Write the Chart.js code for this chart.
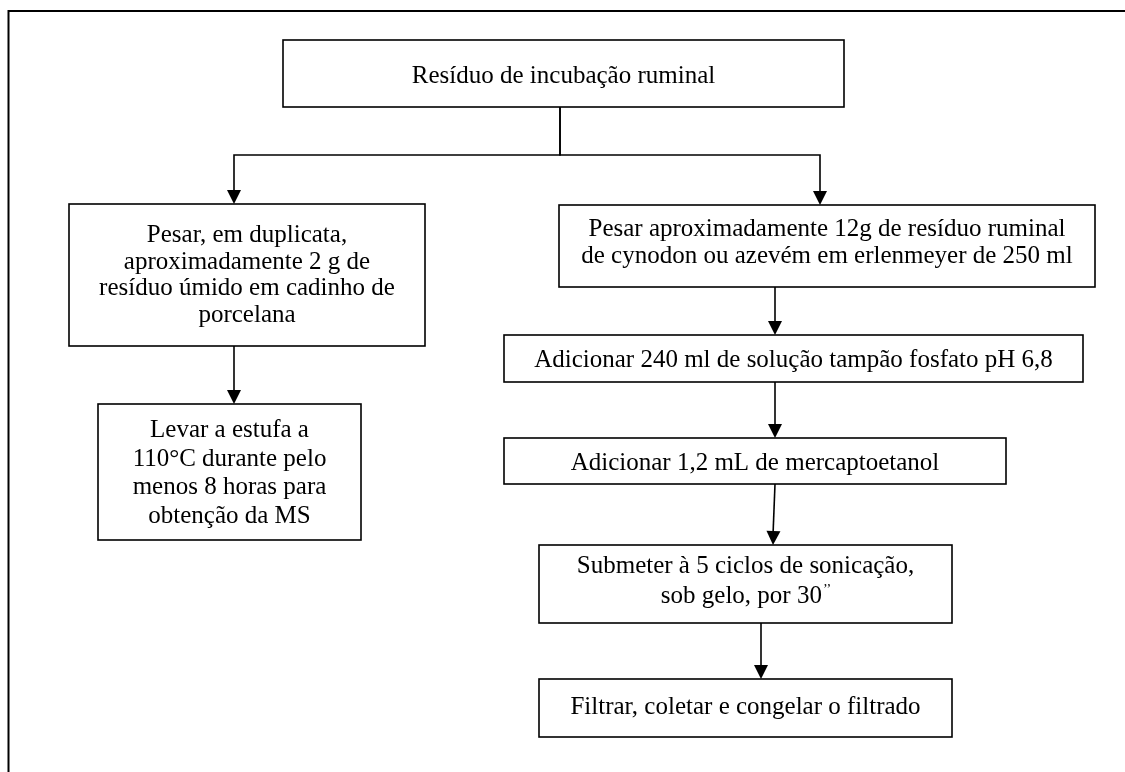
<!DOCTYPE html>
<html>
<head>
<meta charset="utf-8">
<script src="https://cdn.jsdelivr.net/npm/chart.js@4.4.0/dist/chart.umd.min.js"></script>
<style>
  html, body { margin: 0; padding: 0; background: #fff; }
  canvas { display: block; }
</style>
</head>
<body>
<canvas id="flow" width="1125" height="772"></canvas>
<script>
// Flowchart content: step texts (one entry per line, "^" starts a superscript)
const steps = [
    ['Resíduo de incubação ruminal'],
    ['Pesar, em duplicata,', 'aproximadamente 2 g de', 'resíduo úmido em cadinho de', 'porcelana'],
    ['Pesar aproximadamente 12g de resíduo ruminal', 'de cynodon ou azevém em erlenmeyer de 250 ml'],
    ['Levar a estufa a', '110°C durante pelo', 'menos 8 horas para', 'obtenção da MS'],
    ['Adicionar 240 ml de solução tampão fosfato pH 6,8'],
    ['Adicionar 1,2 mL de mercaptoetanol'],
    ['Submeter à 5 ciclos de sonicação,', 'sob gelo, por 30^\u2019\u2019'],
    ['Filtrar, coletar e congelar o filtrado']
];
// Which step leads to which
const links = [[0, 1], [0, 2], [1, 3], [2, 4], [4, 5], [5, 6], [6, 7]];

// Layout in page units (x0, y0, x1, y1, first text baseline, line step)
const layout = [
    { box: [283, 40, 844, 107], ty: 83, lh: 0 },
    { box: [69, 204, 425, 346], ty: 242, lh: 26.7 },
    { box: [559, 205, 1095, 287], ty: 236, lh: 27 },
    { box: [98, 404, 361, 540], ty: 437, lh: 28.7 },
    { box: [504, 335, 1083, 382], ty: 367, lh: 0 },
    { box: [504, 438, 1006, 484], ty: 470, lh: 0 },
    { box: [539, 545, 952, 623], ty: 573, lh: 30 },
    { box: [539, 679, 952, 737], ty: 714, lh: 0 }
];
// x of each link at its start and at its end; split links turn at elbowY
const linkX = [[560, 234], [560, 820], [234, 234], [775, 775], [775, 775], [775, 773], [761, 761]];
const elbowY = 155;
const frame = { left: 8.5, top: 11 };

const FONT = '"Liberation Serif", "Times New Roman", serif';

function arrowHead(ctx, x, y, fromX, fromY) {
    const ang = Math.atan2(y - fromY, x - fromX);
    const len = 14, half = 7;
    ctx.beginPath();
    ctx.moveTo(x, y);
    ctx.lineTo(x - len * Math.cos(ang) + half * Math.sin(ang), y - len * Math.sin(ang) - half * Math.cos(ang));
    ctx.lineTo(x - len * Math.cos(ang) - half * Math.sin(ang), y - len * Math.sin(ang) + half * Math.cos(ang));
    ctx.closePath();
    ctx.fill();
}

const flowPlugin = {
    id: 'flow',
    afterDraw(chart) {
        const ctx = chart.ctx;
        const sx = chart.scales.x, sy = chart.scales.y;
        const px = v => sx.getPixelForValue(v);
        const py = v => sy.getPixelForValue(v);

        ctx.save();
        ctx.strokeStyle = '#000';
        ctx.fillStyle = '#000';

        // outer frame (only left and top edges are inside the picture)
        ctx.lineWidth = 2;
        ctx.beginPath();
        ctx.moveTo(px(frame.left), py(772));
        ctx.lineTo(px(frame.left), py(frame.top));
        ctx.lineTo(px(1125), py(frame.top));
        ctx.stroke();

        // boxes and their text
        ctx.lineWidth = 1.6;
        steps.forEach((lines, i) => {
            const [x0, y0, x1, y1] = layout[i].box;
            ctx.strokeRect(px(x0), py(y0), px(x1) - px(x0), py(y1) - py(y0));
            const cx = px((x0 + x1) / 2);
            ctx.textBaseline = 'alphabetic';
            ctx.textAlign = 'left';
            lines.forEach((line, k) => {
                const y = py(layout[i].ty + k * layout[i].lh);
                const [base, sup] = line.split('^');
                ctx.font = '25px ' + FONT;
                const wBase = ctx.measureText(base).width;
                let wSup = 0;
                if (sup) {
                    ctx.font = '14px ' + FONT;
                    wSup = ctx.measureText(sup).width;
                }
                const left = cx - (wBase + wSup) / 2;
                ctx.font = '25px ' + FONT;
                ctx.fillText(base, left, y);
                if (sup) {
                    ctx.font = '14px ' + FONT;
                    ctx.fillText(sup, left + wBase + 1, y - 9);
                }
            });
        });

        // connectors
        ctx.lineWidth = 1.6;
        links.forEach(([a, b], i) => {
            const [xa, xb] = linkX[i];
            const ya = layout[a].box[3];
            const yb = layout[b].box[1];
            ctx.beginPath();
            if (xa !== xb && a === 0) {
                ctx.moveTo(px(xa), py(ya));
                ctx.lineTo(px(xa), py(elbowY));
                ctx.lineTo(px(xb), py(elbowY));
                ctx.lineTo(px(xb), py(yb) - 10);
                ctx.stroke();
                arrowHead(ctx, px(xb), py(yb), px(xb), py(elbowY));
            } else {
                ctx.moveTo(px(xa), py(ya));
                ctx.lineTo(px(xb), py(yb) - 10);
                ctx.stroke();
                arrowHead(ctx, px(xb), py(yb), px(xa), py(ya));
            }
        });
        ctx.restore();
    }
};

new Chart(document.getElementById('flow').getContext('2d'), {
    type: 'scatter',
    data: { datasets: [{ data: [], pointRadius: 0 }] },
    options: {
        responsive: false,
        animation: false,
        layout: { padding: 0 },
        plugins: { legend: { display: false }, tooltip: { enabled: false } },
        scales: {
            x: { type: 'linear', min: 0, max: 1125, display: false },
            y: { type: 'linear', min: 0, max: 772, reverse: true, display: false }
        }
    },
    plugins: [flowPlugin]
});
</script>
</body>
</html>
